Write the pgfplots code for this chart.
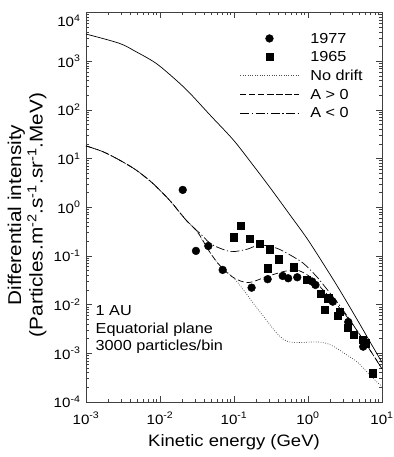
\documentclass[border=0pt]{standalone}
\usepackage{fontspec}
\setmainfont{Liberation Sans}[FakeStretch=1.12]
\usepackage{pgfplots}
\pgfplotsset{compat=1.18}

\newcommand{\sups}[1]{\textsuperscript{#1}}

% Observed spectra
\pgfplotstableread{
E      J
0.0203 2.27
0.0306 0.127
0.045  0.160
0.0703 0.0516
0.173  0.0223
0.285  0.0333
0.455  0.0388
0.54   0.0348
0.716  0.0365
1.14   0.0297
1.26   0.0254
2.16   0.0115
3.5    0.0044
5.57   0.00137
}\obsSeventySeven
\pgfplotstableread{
E      J
0.098  0.242
0.123  0.419
0.161  0.226
0.222  0.179
0.303  0.137
0.402  0.0855
0.282  0.0559
0.647  0.0586
0.96   0.0322
1.49   0.0166
1.88   0.0135
1.70   0.00778
2.70   0.00718
2.49   0.00586
3.44   0.00337
4.19   0.00239
5.42   0.00188
6.03   0.00161
7.4    0.00039
}\obsSixtyFive

% Model spectra at 1 AU
\pgfplotstableread{
E       J
0.001   18.2
0.00168 13.9
0.00282 9.35
0.00474 5.83
0.00796 3.11
0.01337 1.41
0.02244 0.548
0.0306  0.342
0.0474  0.118
0.0647  0.063
0.098   0.036
0.134   0.0201
0.182   0.0107
0.249   0.0058
0.378   0.0026
0.515   0.00178
0.78    0.00166
1.24    0.00172
1.79    0.00160
2.44    0.00127
3.33    0.00093
4.55    0.00068
6.21    0.00042
8.47    0.00026
10      0.00021
}\nodrift
\pgfplotstableread{
E       J
0.001   18.2
0.00168 13.9
0.00282 9.35
0.00474 5.83
0.00796 3.11
0.01337 1.41
0.02244 0.548
0.0306  0.342
0.0348  0.26
0.0474  0.118
0.0647  0.063
0.098   0.036
0.156   0.0283
0.277   0.0376
0.464   0.0476
0.703   0.0516
1.06    0.0376
1.45    0.0234
1.98    0.0140
3.0     0.0070
4.55    0.0030
6.88    0.00117
10      0.00048
}\apos
\pgfplotstableread{
E       J
0.001   18.2
0.00168 13.9
0.00282 9.35
0.00474 5.83
0.00796 3.11
0.01337 1.41
0.02244 0.548
0.0306  0.342
0.0348  0.292
0.0474  0.182
0.0647  0.144
0.093   0.1225
0.149   0.137
0.224   0.168
0.378   0.144
0.571   0.105
0.863   0.0708
1.31    0.0376
1.79    0.021
2.4     0.0120
3.0     0.0076
4.55    0.0030
6.88    0.00117
10      0.00048
}\aneg
% Local interstellar spectrum
\pgfplotstableread{
E       J
0.001   3610
0.00282 2330
0.00474 1567
0.00883 906
0.01644 411
0.0254  219
0.0474  78.5
0.098   24.1
0.173   8.0
0.306   2.55
0.571   0.695
1.0     0.213
2.0     0.041
3.0     0.0150
5.0     0.0040
7.0     0.00165
10      0.00065
}\lis

\begin{document}
\begin{tikzpicture}
\begin{axis}[
  xmode=log, ymode=log,
  scale only axis, width=296pt, height=389.5pt,
  xmin=1e-3, xmax=10, ymin=1e-4, ymax=1e4,
  xtick={1e-3,1e-2,1e-1,1,10},
  xticklabels={10\sups{-3},10\sups{-2},10\sups{-1},10\sups{0},10\sups{1}},
  ytick={1e-4,1e-3,1e-2,1e-1,1,10,100,1000,10000},
  yticklabels={10\sups{-4},10\sups{-3},10\sups{-2},10\sups{-1},10\sups{0},10\sups{1},10\sups{2},10\sups{3},\raisebox{-8pt}[\height][\depth]{10\sups{4}}},
  minor xtick={2e-3,3e-3,4e-3,5e-3,6e-3,7e-3,8e-3,9e-3,2e-2,3e-2,4e-2,5e-2,6e-2,7e-2,8e-2,9e-2,0.2,0.3,0.4,0.5,0.6,0.7,0.8,0.9,2,3,4,5,6,7,8,9},
  minor ytick={2e-4,3e-4,4e-4,5e-4,6e-4,7e-4,8e-4,9e-4,2e-3,3e-3,4e-3,5e-3,6e-3,7e-3,8e-3,9e-3,2e-2,3e-2,4e-2,5e-2,6e-2,7e-2,8e-2,9e-2,0.2,0.3,0.4,0.5,0.6,0.7,0.8,0.9,2,3,4,5,6,7,8,9,20,30,40,50,60,70,80,90,200,300,400,500,600,700,800,900,2000,3000,4000,5000,6000,7000,8000,9000},
  tick align=inside,
  major tick length=6pt, minor tick length=3pt,
  every tick/.style={black!75, line width=0.6pt},
  axis line style={black!75, line width=0.9pt},
  ticklabel style={font=\fontsize{13.5}{16}\selectfont},
  xticklabel style={anchor=base, yshift=-22pt},
  yticklabel style={xshift=-2pt},
  xlabel={Kinetic energy (GeV)},
  xlabel style={at={(axis description cs:0.5,-0.113)}, anchor=base, font=\fontsize{16.5}{20}\selectfont},
  ylabel={Differential intensity\\(Particles.m\sups{-2}.s\sups{-1}.sr\sups{-1}.MeV)},
  ylabel style={at={(axis description cs:-0.122,0.48)}, anchor=south, rotate=0, align=center, font=\fontsize{18.5}{21.5}\selectfont},
  legend image code/.code={\draw[mark repeat=2,mark phase=2,#1] plot coordinates {(0pt,0pt) (29pt,0pt) (58pt,0pt)};},
  legend style={draw=none, fill=none, inner sep=0pt, row sep=7.6pt,
    at={(axis description cs:0.52,0.948)}, anchor=north west,
    font=\fontsize{14.5}{17}\selectfont,
    nodes={inner sep=0pt, text height=10.4pt, text depth=0.6pt},
    /tikz/every odd column/.append style={column sep=11.5pt}},
  legend cell align=left,
]
\addplot[only marks, mark=*, mark size=3.9pt, black] table[x=E, y=J] {\obsSeventySeven};
\addlegendentry{1977}
\addplot[only marks, mark=square*, mark size=3.6pt, black] table[x=E, y=J] {\obsSixtyFive};
\addlegendentry{1965}
\addplot[smooth, black!70, line width=0.7pt, dash pattern=on 0.8pt off 1.6pt] table[x=E, y=J] {\nodrift};
\addlegendentry{No drift}
\addplot[smooth, black, line width=0.7pt, dash pattern=on 6pt off 3pt] table[x=E, y=J] {\apos};
\addlegendentry{A > 0}
\addplot[smooth, black, line width=0.7pt, dash pattern=on 9pt off 2.5pt on 1.2pt off 2.5pt] table[x=E, y=J] {\aneg};
\addlegendentry{A < 0}
\addplot[smooth, black, line width=0.7pt, forget plot] table[x=E, y=J] {\lis};
\node[anchor=base west, align=left, inner sep=0pt, font=\fontsize{14.5}{17.7}\selectfont]
  at (rel axis cs:0.032,0.131) {1 AU\\Equatorial plane\\3000 particles/bin};
\end{axis}
\pgfresetboundingbox
\path (-86pt,-55pt) rectangle (307pt,402pt);
\end{tikzpicture}
\end{document}
